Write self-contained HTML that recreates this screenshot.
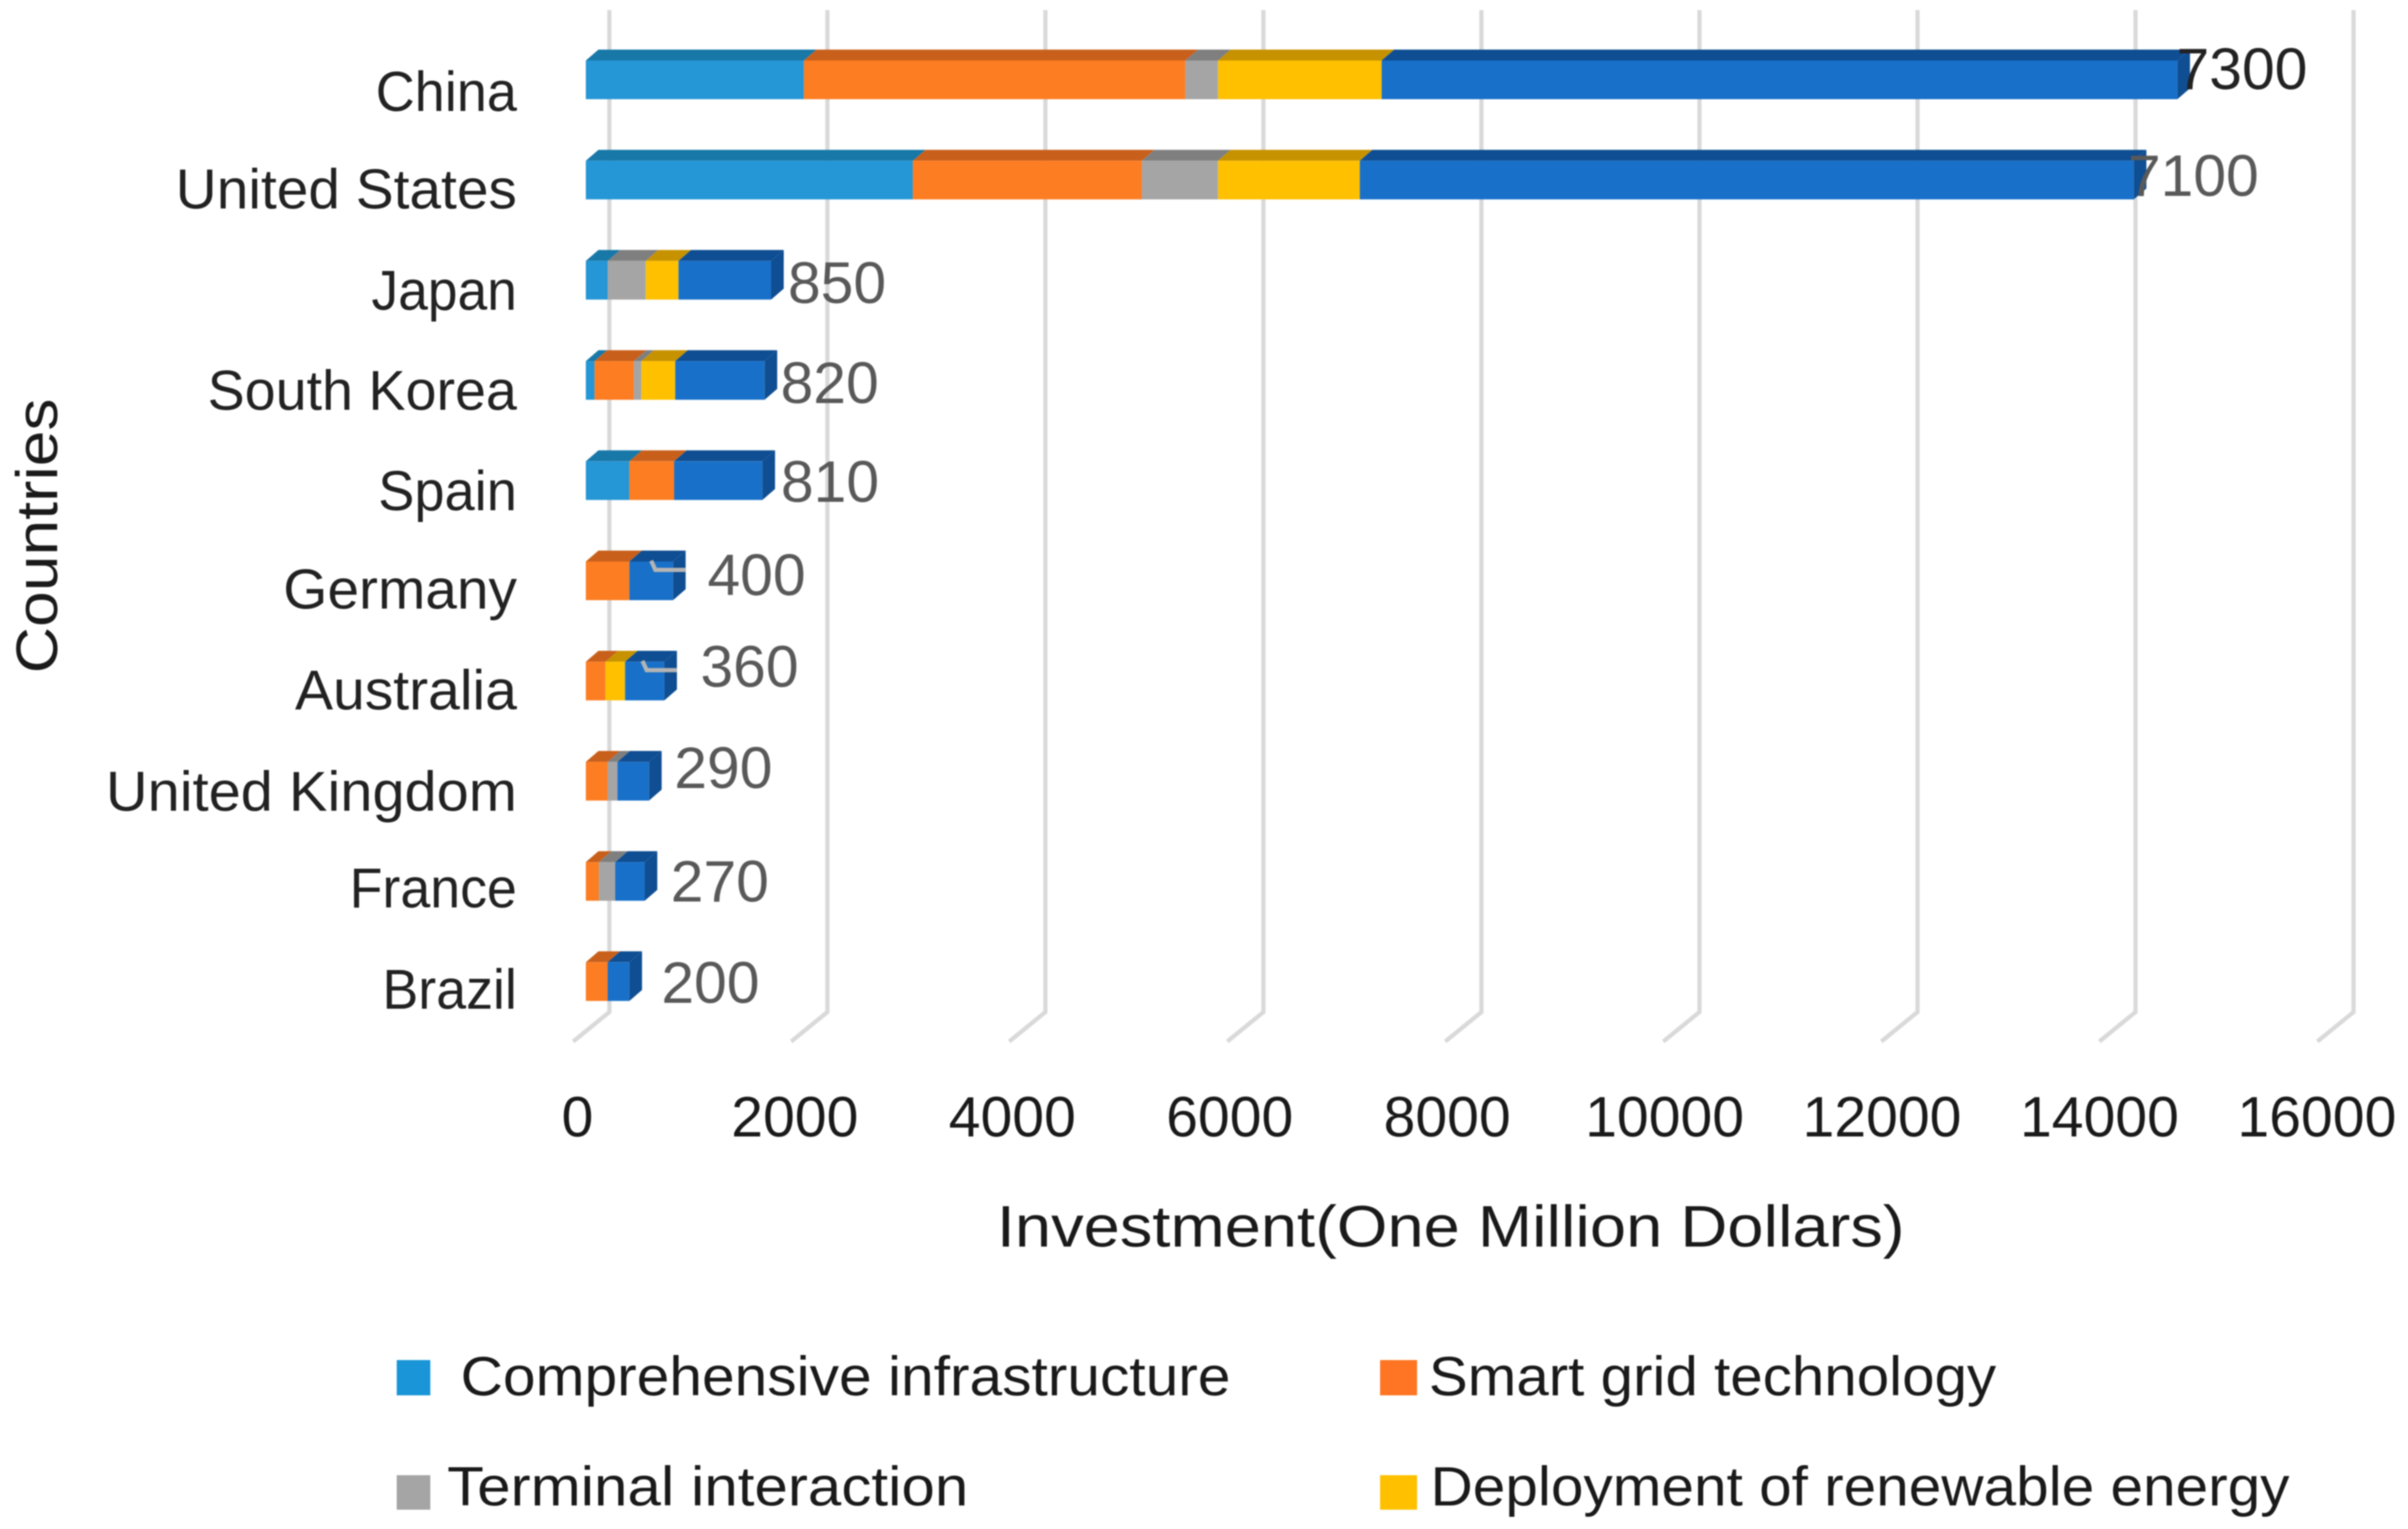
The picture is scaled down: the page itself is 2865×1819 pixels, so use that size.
<!DOCTYPE html>
<html lang="en">
<head>
<meta charset="utf-8">
<title>Investment by country</title>
<style>
html,body{margin:0;padding:0;background:#fff;}
svg{display:block;filter:blur(0.9px);}
text{font-family:"Liberation Sans","DejaVu Sans",sans-serif;}
</style>
</head>
<body>
<svg id="chart" xmlns="http://www.w3.org/2000/svg" width="2865" height="1819" viewBox="0 0 2865 1819">
  <rect width="2865" height="1819" fill="#ffffff"/>
  <g id="grid"></g>
  <g id="bars"></g>
  <g id="cats"></g>
  <g id="vals"></g>
  <g id="ticks"></g>
  <text x="1186" y="1483" font-size="70" fill="#1a1a1a" textLength="1080" lengthAdjust="spacingAndGlyphs">Investment(One Million Dollars)</text>
  <text transform="translate(68,801) rotate(-90)" font-size="70" fill="#1a1a1a" textLength="327" lengthAdjust="spacingAndGlyphs">Countries</text>
  <g>
    <rect x="472" y="1618" width="40" height="42" fill="#1a96d8"/>
    <text x="548" y="1660" font-size="66" fill="#1a1a1a" textLength="916" lengthAdjust="spacingAndGlyphs">Comprehensive infrastructure</text>
    <rect x="1642" y="1618" width="44" height="42" fill="#ff7524"/>
    <text x="1700" y="1660" font-size="66" fill="#1a1a1a" textLength="675" lengthAdjust="spacingAndGlyphs">Smart grid technology</text>
    <rect x="472" y="1755" width="40" height="41" fill="#a5a5a5"/>
    <text x="532" y="1791" font-size="66" fill="#1a1a1a" textLength="620" lengthAdjust="spacingAndGlyphs">Terminal interaction</text>
    <rect x="1642" y="1755" width="44" height="41" fill="#ffc000"/>
    <text x="1702" y="1791" font-size="66" fill="#1a1a1a" textLength="1022" lengthAdjust="spacingAndGlyphs">Deployment of renewable energy</text>
  </g>
</svg>
<script>
const categories = ["China","United States","Japan","South Korea","Spain","Germany","Australia","United Kingdom","France","Brazil"];
const comprehensiveInfrastructure = [2000,3000,200,80,400,0,0,0,0,0];
const smartGridTechnology = [3500,2100,0,360,410,400,180,200,120,200];
const terminalInteraction = [300,700,350,70,0,0,0,90,150,0];
const renewableDeployment = [1500,1300,300,310,0,0,180,0,0,0];
const totalInvestment = [7300,7100,850,820,810,400,360,290,270,200];
const xTicks = [0,2000,4000,6000,8000,10000,12000,14000,16000];

/* manual label placement offsets (px), as an Excel user dragged them */
const labelNudgeX = [-16,-22,5,4,7,26,28,15,16,23];
const labelNudgeY = [-12,-4,4,4,2,-6,-16,-15,1,2];
const catNudgeY = [14,11,12,12,12,10,11,12,8,9];
const catFitWidth = [168,406,173,368,165,278,264,489,199,160];
const leaderRows = ["Germany","Australia"];

const seriesList = [comprehensiveInfrastructure, smartGridTechnology, terminalInteraction, renewableDeployment, totalInvestment];
const seriesNames = ["comprehensive-infrastructure","smart-grid-technology","terminal-interaction","renewable-deployment","total-investment"];
const frontColors = ["#2596d6","#fd7d22","#a5a5a5","#ffc000","#1870c9"];
const topColors = ["#1878a8","#c8601c","#7f7f7f","#c79200","#0f4e92"];
const sideColor = "#0f4e92";

const K = 0.1297, X0 = 697, DX = 15, DY = 13, BAR_H = 46;
const BAND0 = 118, BAND = 119.2;
const xFront = v => X0 + v * K;
const xGrid = v => xFront(v) + 28;
const xFloor = v => xFront(v) - 15;
const xTickLabel = v => xFront(v) - 10 - v * 0.00035;
const yBottom = i => BAND0 + BAND * i;

const NS = "http://www.w3.org/2000/svg";
function make(parent, tag, attrs, txt) {
  const node = document.createElementNS(NS, tag);
  for (const key in attrs) node.setAttribute(key, attrs[key]);
  if (txt !== undefined) node.textContent = txt;
  parent.appendChild(node);
  return node;
}
const gGrid = document.getElementById("grid");
const gBars = document.getElementById("bars");
const gCats = document.getElementById("cats");
const gVals = document.getElementById("vals");
const gTicks = document.getElementById("ticks");

xTicks.forEach(function (t) {
  const xg = xGrid(t);
  const line = make(gGrid, "polyline", {points: xg + ",12 " + xg + ",1204 " + xFloor(t) + ",1239", fill: "none", stroke: "#d9d9d9", "stroke-width": 5});
  
  
  const lab = make(gTicks, "text", {x: xTickLabel(t), y: 1352, "font-size": 68, fill: "#1a1a1a", "text-anchor": "middle"}, String(t));
  
  
});

categories.forEach(function (cat, i) {
  const bottom = yBottom(i);
  const top = bottom - BAR_H;
  let cum = 0;
  seriesList.forEach(function (series, s) {
    const v = series[i];
    if (v <= 0) return;
    const a = xFront(cum), b = xFront(cum + v);
    const topFace = make(gBars, "polygon", {points: a + "," + top + " " + (a + DX) + "," + (top - DY) + " " + (b + DX) + "," + (top - DY) + " " + b + "," + top, fill: topColors[s]});
    
    
    const front = make(gBars, "rect", {x: a, y: top, width: b - a, height: BAR_H, fill: frontColors[s]});
    
    
    cum += v;
  });
  const end = xFront(cum);
  const side = make(gBars, "polygon", {points: end + "," + top + " " + (end + DX) + "," + (top - DY) + " " + (end + DX) + "," + (bottom - DY) + " " + end + "," + bottom, fill: sideColor});
  
  

  if (leaderRows.indexOf(cat) >= 0) {
    const lead = make(gBars, "polyline", {points: (end - 26) + "," + (bottom - 47) + " " + (end - 21) + "," + (bottom - 36) + " " + (end + 15) + "," + (bottom - 36), fill: "none", stroke: "#b4b4b4", "stroke-width": 5});
    
    
  }

  const catLabel = make(gCats, "text", {x: 615, y: bottom + catNudgeY[i], "font-size": 67, fill: "#222222", "text-anchor": "end", textLength: catFitWidth[i], lengthAdjust: "spacingAndGlyphs"}, cat);
  
  

  const valLabel = make(gVals, "text", {x: end + DX + labelNudgeX[i], y: bottom + labelNudgeY[i], "font-size": 70, fill: i === 0 ? "#222222" : "#595959"}, String(totalInvestment[i]));
  
  
});
</script>
</body>
</html>
